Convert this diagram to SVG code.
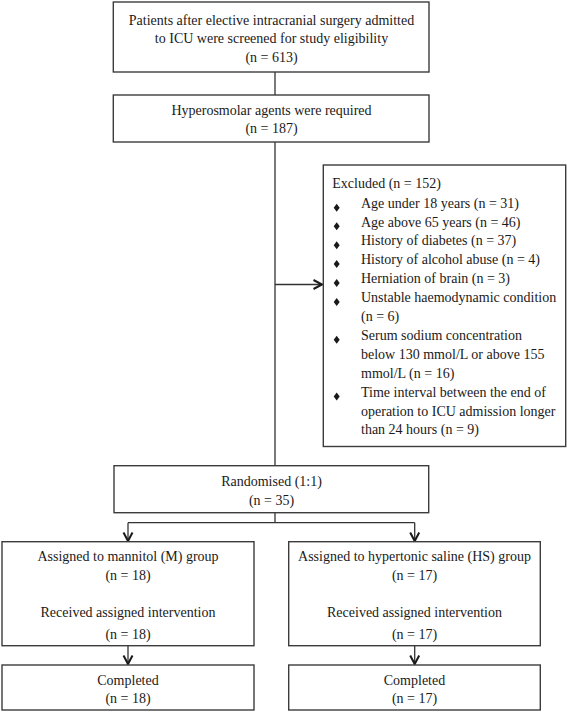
<svg xmlns="http://www.w3.org/2000/svg" width="567" height="712" viewBox="0 0 567 712">
<style>
.box{fill:#fff;stroke:#3c3c3c;stroke-width:1.4}
.t{font-family:"Liberation Serif","Times New Roman",serif;font-size:14px;fill:#1a1a1a}
.c{text-anchor:middle}
.ln{fill:none;stroke:#333;stroke-width:1.3}
.ah{fill:none;stroke:#1a1a1a;stroke-width:2;stroke-linejoin:miter}
.bul{fill:#1a1a1a}
</style>
<rect width="567" height="712" fill="#fff"/>
<g id="connectors">
<line class="ln" x1="275" y1="72" x2="275" y2="95"/>
<line class="ln" x1="275" y1="142" x2="275" y2="465"/>
<line class="ln" x1="275" y1="284.5" x2="322" y2="284.5"/>
<polyline class="ah" points="313.5,280 322,284.5 313.5,289"/>
<line class="ln" x1="275" y1="513" x2="275" y2="522.7"/>
<line class="ln" x1="128" y1="522.7" x2="414.7" y2="522.7"/>
<line class="ln" x1="128" y1="522.7" x2="128" y2="541"/>
<polyline class="ah" points="123.5,532.5 128,541 132.5,532.5"/>
<line class="ln" x1="414.7" y1="522.7" x2="414.7" y2="541"/>
<polyline class="ah" points="410.2,532.5 414.7,541 419.2,532.5"/>
<line class="ln" x1="128" y1="646" x2="128" y2="664"/>
<polyline class="ah" points="123.5,655.5 128,664 132.5,655.5"/>
<line class="ln" x1="414.7" y1="646" x2="414.7" y2="664"/>
<polyline class="ah" points="410.2,655.5 414.7,664 419.2,655.5"/>
</g>
<g id="screened">
<rect class="box" x="113.3" y="2" width="315.7" height="70"/>
<text class="t c" x="271.5" y="24.5">Patients after elective intracranial surgery admitted</text>
<text class="t c" x="271.5" y="43">to ICU were screened for study eligibility</text>
<text class="t c" x="271.5" y="61.5">(n = 613)</text>
</g>
<g id="hyperosmolar">
<rect class="box" x="113.3" y="95" width="315.7" height="47"/>
<text class="t c" x="271.5" y="114.5">Hyperosmolar agents were required</text>
<text class="t c" x="271.5" y="133">(n = 187)</text>
</g>
<g id="excluded">
<rect class="box" x="323.3" y="165" width="242.4" height="281.5"/>
<text class="t" x="332.3" y="188">Excluded (n = 152)</text>
<polygon class="bul" points="336.7,203.8 339.7,207.8 336.7,211.8 333.7,207.8"/>
<text class="t" x="361" y="208">Age under 18 years (n = 31)</text>
<polygon class="bul" points="336.7,222.3 339.7,226.3 336.7,230.3 333.7,226.3"/>
<text class="t" x="361" y="226.5">Age above 65 years (n = 46)</text>
<polygon class="bul" points="336.7,241.2 339.7,245.2 336.7,249.2 333.7,245.2"/>
<text class="t" x="361" y="245.4">History of diabetes (n = 37)</text>
<polygon class="bul" points="336.7,260.1 339.7,264.1 336.7,268.1 333.7,264.1"/>
<text class="t" x="361" y="264.3">History of alcohol abuse (n = 4)</text>
<polygon class="bul" points="336.7,279 339.7,283 336.7,287 333.7,283"/>
<text class="t" x="361" y="283.2">Herniation of brain (n = 3)</text>
<polygon class="bul" points="336.7,297.9 339.7,301.9 336.7,305.9 333.7,301.9"/>
<text class="t" x="361" y="302.1">Unstable haemodynamic condition</text>
<text class="t" x="361" y="321">(n = 6)</text>
<polygon class="bul" points="336.7,335.7 339.7,339.7 336.7,343.7 333.7,339.7"/>
<text class="t" x="361" y="339.9">Serum sodium concentration</text>
<text class="t" x="361" y="358.8">below 130 mmol/L or above 155</text>
<text class="t" x="361" y="377.7">mmol/L (n = 16)</text>
<polygon class="bul" points="336.7,392.4 339.7,396.4 336.7,400.4 333.7,396.4"/>
<text class="t" x="361" y="396.6">Time interval between the end of</text>
<text class="t" x="361" y="415.5">operation to ICU admission longer</text>
<text class="t" x="361" y="434.4">than 24 hours (n = 9)</text>
</g>
<g id="randomised">
<rect class="box" x="114" y="465.7" width="314.7" height="47"/>
<text class="t c" x="271.5" y="486.3">Randomised (1:1)</text>
<text class="t c" x="271.5" y="505">(n = 35)</text>
</g>
<g id="mannitol">
<rect class="box" x="2" y="541.7" width="252" height="104"/>
<text class="t c" x="128" y="560.5">Assigned to mannitol (M) group</text>
<text class="t c" x="128" y="580">(n = 18)</text>
<text class="t c" x="128" y="617">Received assigned intervention</text>
<text class="t c" x="128" y="638.6">(n = 18)</text>
</g>
<g id="saline">
<rect class="box" x="288.7" y="541.7" width="251.6" height="104"/>
<text class="t c" x="414.5" y="560.5">Assigned to hypertonic saline (HS) group</text>
<text class="t c" x="414.5" y="580">(n = 17)</text>
<text class="t c" x="414.5" y="617">Received assigned intervention</text>
<text class="t c" x="414.5" y="638.6">(n = 17)</text>
</g>
<g id="completed-m">
<rect class="box" x="2" y="665" width="252" height="45"/>
<text class="t c" x="128" y="685">Completed</text>
<text class="t c" x="128" y="703.3">(n = 18)</text>
</g>
<g id="completed-hs">
<rect class="box" x="288.7" y="665" width="251.6" height="45"/>
<text class="t c" x="414.5" y="685">Completed</text>
<text class="t c" x="414.5" y="703.3">(n = 17)</text>
</g>
</svg>
